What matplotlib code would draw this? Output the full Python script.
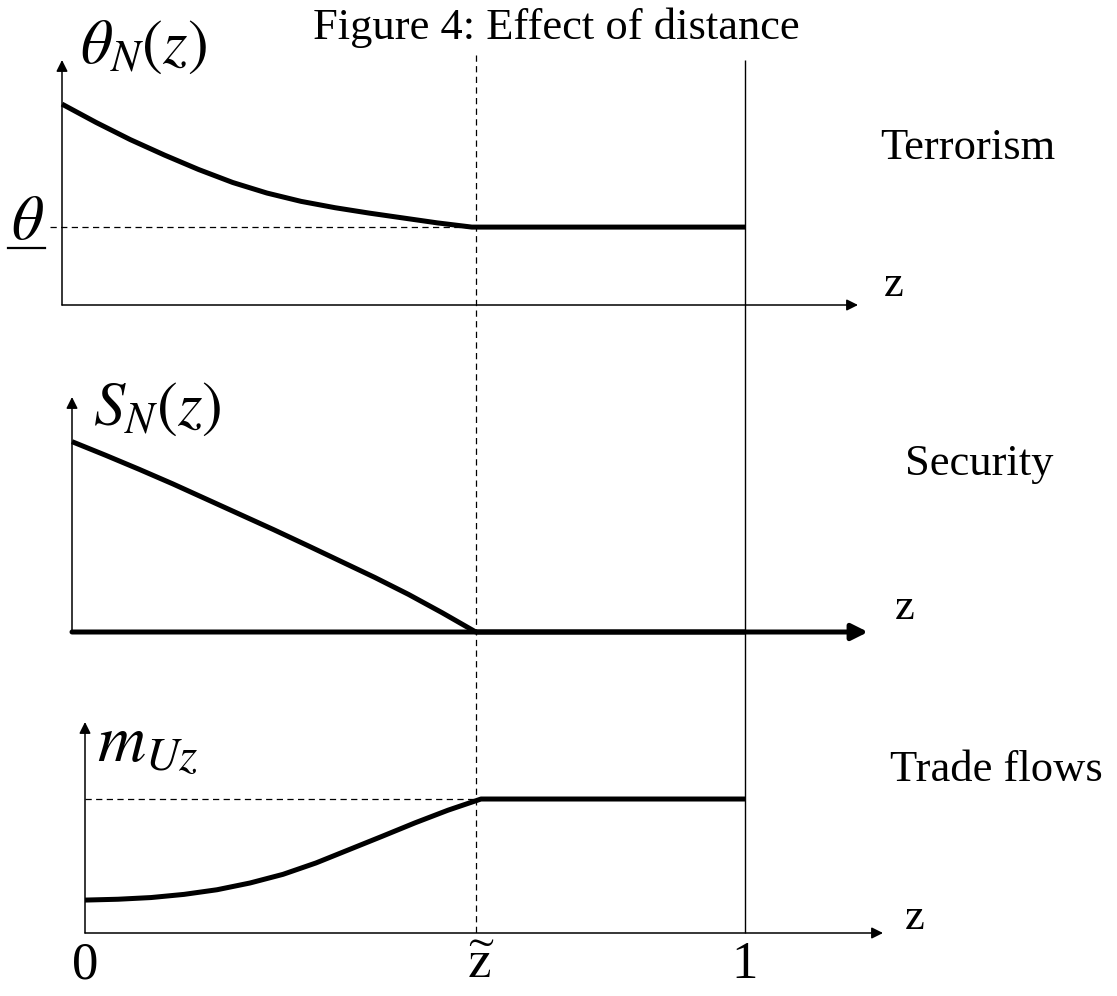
"""
Effect of distance: terrorism, security and trade flows against distance z.
"""

import matplotlib
matplotlib.use("Agg")
import matplotlib.pyplot as plt
from matplotlib.transforms import blended_transform_factory

plt.rcParams['font.family'] = ['Liberation Serif', 'DejaVu Serif']
plt.rcParams['mathtext.fontset'] = 'stix'

# distance threshold and curve samples (z from 0 to 1)
z_tilde = 0.6
theta_z = [0, 0.05, 0.1, 0.15, 0.2, 0.25, 0.3, 0.35, 0.4, 0.45, 0.5, 0.55, 0.6, 1.0]
theta_v = [0.82, 0.745, 0.675, 0.612, 0.553, 0.5, 0.457, 0.423, 0.397, 0.375, 0.355, 0.335, 0.318, 0.318]
theta_floor = 0.318

sec_z = [0, 0.05, 0.1, 0.15, 0.2, 0.25, 0.3, 0.35, 0.4, 0.45, 0.5, 0.55, 0.6, 1.0]
sec_v = [0.81, 0.752, 0.692, 0.63, 0.565, 0.5, 0.435, 0.368, 0.30, 0.232, 0.16, 0.082, 0.0, 0.0]

trade_z = [0, 0.05, 0.1, 0.15, 0.2, 0.25, 0.3, 0.35, 0.4, 0.45, 0.5, 0.55, 0.6, 1.0]
trade_v = [0.156, 0.16, 0.168, 0.183, 0.205, 0.237, 0.278, 0.332, 0.395, 0.458, 0.522, 0.582, 0.635, 0.635]
trade_cap = 0.635

tick_z = [0, z_tilde, 1]
tick_labels = ['0', r'$\widetilde{\mathrm{z}}$', '1']

W, H = 1117, 996
Z_ONE_PX = 745
DASH = dict(color='black', lw=0.9, linestyle=(0, (5, 3.5)))
CURVE = dict(color='black', lw=3.6, solid_capstyle='butt', solid_joinstyle='round', clip_on=False)

fig = plt.figure(figsize=(W / 100, H / 100), dpi=100)

# full-figure layer in pixel units for text placement
lay = fig.add_axes([0, 0, 1, 1])
lay.set_xlim(0, W)
lay.set_ylim(H, 0)
lay.axis('off')


def panel(origin_x, axis_y, tip_x, tip_y, thick_x=False):
    ax = fig.add_axes([origin_x / W, 1 - axis_y / H,
                       (tip_x - origin_x) / W, (axis_y - tip_y) / H])
    ax.set_xlim(0, (tip_x - origin_x) / (Z_ONE_PX - origin_x))
    ax.set_ylim(0, 1)
    ax.axis('off')
    ax.patch.set_alpha(0)
    xw = 3.6 if thick_x else 1.1
    ms = 24 if thick_x else 17
    ax.annotate('', xy=(1, 0), xytext=(0, 0), xycoords='axes fraction',
                arrowprops=dict(arrowstyle='-|>', lw=xw, color='black',
                                mutation_scale=ms, shrinkA=0, shrinkB=0))
    ax.annotate('', xy=(0, 1), xytext=(0, 0), xycoords='axes fraction',
                arrowprops=dict(arrowstyle='-|>', lw=1.1, color='black',
                                mutation_scale=17, shrinkA=0, shrinkB=0))
    return ax


ax1 = panel(62, 305, 858, 60)
ax2 = panel(72, 632, 868, 397, thick_x=True)
ax3 = panel(85, 933, 883, 722)

# vertical guides at z-tilde and z = 1, running through all panels
guide = fig.add_axes([72 / W, 0, (Z_ONE_PX - 72) / W, 1])
guide.set_xlim(0, 1)
guide.set_ylim(H, 0)
guide.axis('off')
guide.patch.set_alpha(0)
guide.vlines(z_tilde, 55, 933, clip_on=False, **DASH)
guide.vlines(1, 60, 933, color='black', lw=1.0, clip_on=False)

# terrorism
ax1.plot(theta_z, theta_v, **CURVE)
ax1.hlines(theta_floor, -0.018, z_tilde, clip_on=False, **DASH)

# security
ax2.plot(sec_z, sec_v, **CURVE)

# trade flows
ax3.plot(trade_z, trade_v, **CURVE)
ax3.hlines(trade_cap, 0, z_tilde, **DASH)

# labels
lay.text(556, 28, 'Figure 4: Effect of distance', fontsize=32, ha='center', va='center')
lay.text(80, 48, r'$\theta_N(z)$', fontsize=45, ha='left', va='center')
lay.text(27, 224, r'$\theta$', fontsize=45, ha='center', va='center')
lay.plot([8, 45], [248, 248], color='black', lw=1.6)
lay.text(93, 410, r'$S_N(z)$', fontsize=45, ha='left', va='center')
lay.text(97, 745, r'$m_{Uz}$', fontsize=48, ha='left', va='center')

lay.text(894, 285, 'z', fontsize=32, ha='center', va='center')
lay.text(905, 608, 'z', fontsize=32, ha='center', va='center')
lay.text(915, 918, 'z', fontsize=32, ha='center', va='center')

lay.text(880, 148, 'Terrorism', fontsize=32, ha='left', va='center')
lay.text(905, 464, 'Security', fontsize=32, ha='left', va='center')
lay.text(890, 770, 'Trade flows', fontsize=32, ha='left', va='center')

tick_tf = blended_transform_factory(ax3.transData, lay.transData)
for z, lab in zip(tick_z, tick_labels):
    ax3.text(z, 965, lab, transform=tick_tf, fontsize=38, ha='center', va='center')

fig.savefig('out.png', dpi=100)
